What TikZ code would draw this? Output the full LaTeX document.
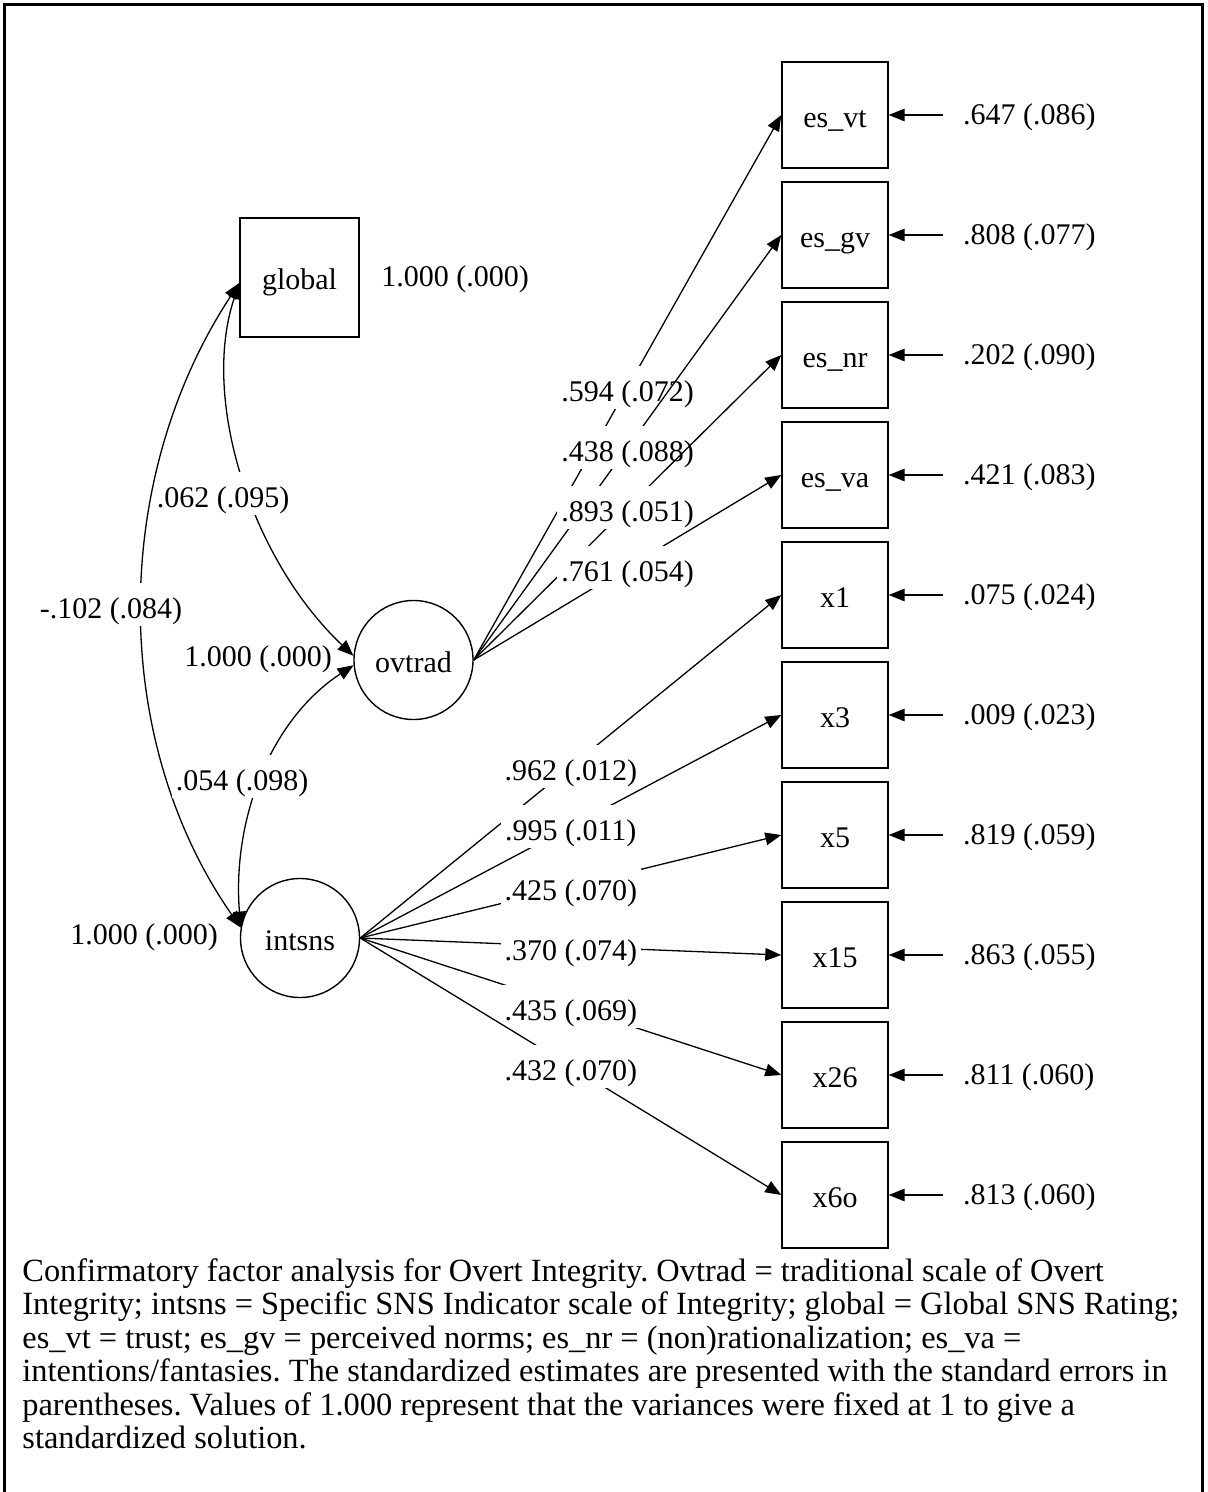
\documentclass[tikz,border=0pt]{standalone}
\usepackage{fontspec}
\setmainfont{Liberation Serif}
\usetikzlibrary{arrows.meta}

\begin{document}
\frenchspacing
\begin{tikzpicture}[x=0.5pt,y=-0.5pt,
  every node/.style={font=\fontsize{15}{17}\selectfont},
  obs/.style={draw, line width=0.7pt, minimum width=53pt, minimum height=53pt,
              inner sep=0pt, text height=13.5pt, text depth=1pt},
  bigobs/.style={obs, minimum width=59.5pt, minimum height=59.5pt},
  latent/.style={draw, circle, line width=0.7pt, minimum size=59.5pt, inner sep=0pt,
                 text height=13.5pt, text depth=1pt},
  tip/.tip={Triangle[length=8pt,width=6.3pt]},
  arr/.style={-tip, line width=0.65pt},
  cov/.style={tip-tip, line width=0.65pt},
  est/.style={fill=white, inner xsep=2pt, inner ysep=3.25pt,
              text height=14.5pt, text depth=0.5pt},
  plain/.style={inner sep=2pt, text height=10pt, text depth=0.4pt},
  errlab/.style={plain, anchor=west},
  frame/.style={line width=1.5pt}
]
\useasboundingbox (0,0) rectangle (1208,1492);
\draw[frame] (4,1492) -- (4,5) -- (1202,5) -- (1202,1492);

% latent and observed variables
\node[bigobs] (global) at (299.5,277.5) {global};
\node[latent] (ovtrad) at (413.5,660) {ovtrad};
\node[latent] (intsns) at (300,938) {intsns};

\node[obs] (esvt) at (835,115)  {es\_vt};
\node[obs] (esgv) at (835,235)  {es\_gv};
\node[obs] (esnr) at (835,355)  {es\_nr};
\node[obs] (esva) at (835,475)  {es\_va};
\node[obs] (x1)   at (835,595)  {x1};
\node[obs] (x3)   at (835,715)  {x3};
\node[obs] (x5)   at (835,835)  {x5};
\node[obs] (x15)  at (835,955)  {x15};
\node[obs] (x26)  at (835,1075) {x26};
\node[obs] (x6o)  at (835,1195) {x6o};

% variances of the factors
\node[plain] (vglobal) at (455,277) {1.000 (.000)};
\node[plain] (vovtrad) at (258,657) {1.000 (.000)};
\node[plain] (vintsns) at (144,935) {1.000 (.000)};

% factor covariances
\draw[cov] ([yshift=-2.75pt]global.west) .. controls (200,400) and (252,560) .. (ovtrad.176);
\node[est] (c1) at (223,493) {.062 (.095)};
\draw[cov] ([yshift=-2.75pt]global.west) .. controls (110,480) and (110,740) .. (intsns.170);
\node[est] (c2) at (111,604) {-.102 (.084)};
\draw[cov] (intsns.170) .. controls (232,820) and (270,720) .. (ovtrad.185);
\node[est] (c3) at (242,776) {.054 (.098)};

% loadings of ovtrad
\draw[arr] (ovtrad.east) -- node[est] (l1) {.594 (.072)} (esvt.west);
\draw[arr] (ovtrad.east) -- node[est] (l2) {.438 (.088)} (esgv.west);
\draw[arr] (ovtrad.east) -- node[est] (l3) {.893 (.051)} (esnr.west);
\draw[arr] (ovtrad.east) -- node[est] (l4) {.761 (.054)} (esva.west);

% loadings of intsns
\draw[arr] (intsns.east) -- node[est] (l5)  {.962 (.012)} (x1.west);
\draw[arr] (intsns.east) -- node[est] (l6)  {.995 (.011)} (x3.west);
\draw[arr] (intsns.east) -- node[est] (l7)  {.425 (.070)} (x5.west);
\draw[arr] (intsns.east) -- node[est] (l8)  {.370 (.074)} (x15.west);
\draw[arr] (intsns.east) -- node[est] (l9)  {.435 (.069)} (x26.west);
\draw[arr] (intsns.east) -- node[est] (l10) {.432 (.070)} (x6o.west);

% residual variances
\foreach \v/\t in {esvt/.647 (.086), esgv/.808 (.077), esnr/.202 (.090), esva/.421 (.083),
                   x1/.075 (.024), x3/.009 (.023), x5/.819 (.059), x15/.863 (.055),
                   x26/.811 (.060), x6o/.813 (.060)}{
  \node[errlab] (e\v) at ([xshift=35pt]\v.east) {\t};
  \draw[arr] ([xshift=-8pt]e\v.west) -- (\v.east);
}

% caption
\node[anchor=north west, align=left, inner sep=0pt,
      font=\fontsize{16.2}{16.75}\selectfont] (caption) at (22,1258)
  {Confirmatory factor analysis for Overt Integrity. Ovtrad = traditional scale of Overt\\
   Integrity; intsns = Specific SNS Indicator scale of Integrity; global = Global SNS Rating;\\
   es\_vt = trust; es\_gv = perceived norms; es\_nr = (non)rationalization; es\_va =\\
   intentions/fantasies. The standardized estimates are presented with the standard errors in\\
   parentheses. Values of 1.000 represent that the variances were fixed at 1 to give a\\
   standardized solution.};
\end{tikzpicture}
\end{document}
